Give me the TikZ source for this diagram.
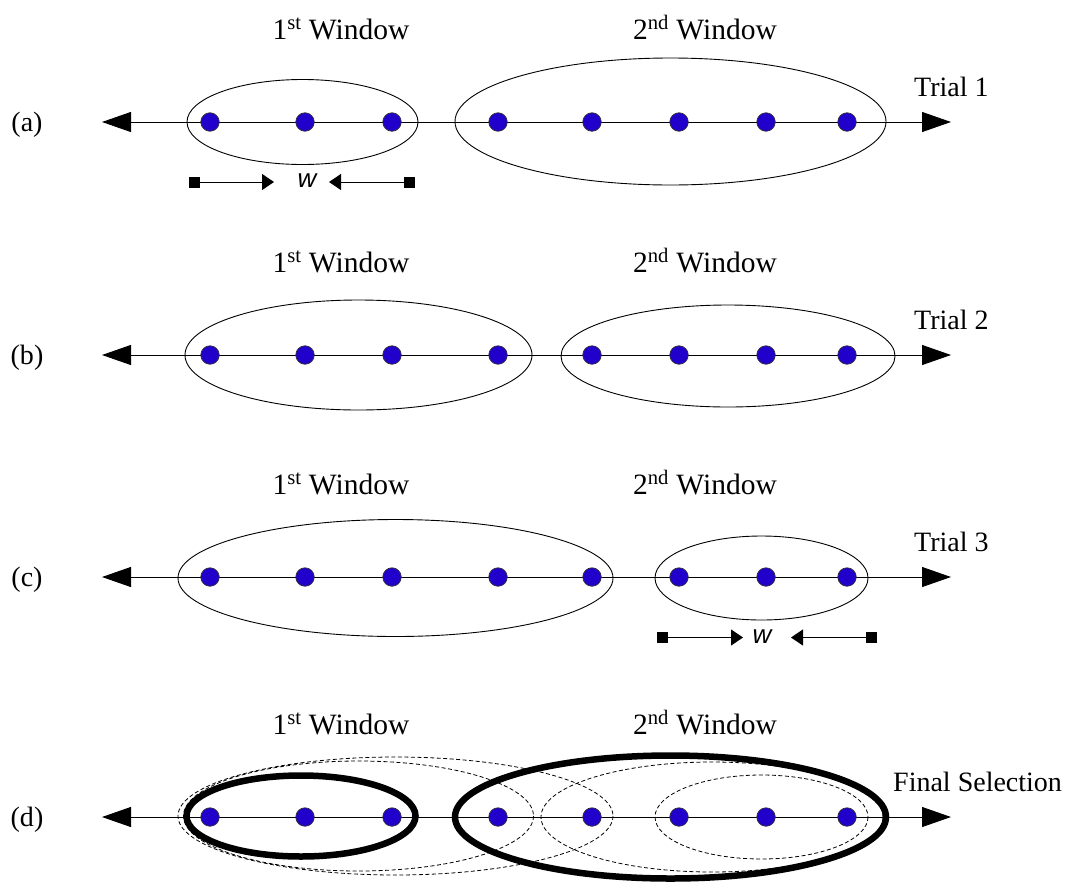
\documentclass[tikz,border=0pt]{standalone}
\usepackage{fontspec}
\setmainfont{Liberation Serif}
\newfontfamily\wfont{Liberation Sans}
\usetikzlibrary{arrows.meta}
\definecolor{dotblue}{RGB}{34,0,204}
\tikzset{
  dot/.style={circle, fill=dotblue, draw=black!80, line width=0.7pt, minimum size=18.5pt, inner sep=0pt},
  axisline/.style={line width=1pt, {Triangle[length=29pt,width=20pt]}-{Triangle[length=29pt,width=20pt]}},
  wbar/.style={line width=1pt, {Square[length=11pt,width=11pt]}-{Triangle[length=12pt,width=16pt]}},
  win/.style={line width=0.9pt},
  thickwin/.style={line width=6.5pt},
  dashwin/.style={line width=0.8pt, dash pattern=on 4pt off 2.5pt},
  txt/.style={font=\fontsize{28}{32}\selectfont, inner sep=0pt},
  ttl/.style={font=\fontsize{29.5}{34}\selectfont, inner sep=0pt},
  wlab/.style={font=\wfont\itshape\fontsize{26}{30}\selectfont, inner sep=0pt},
}
\begin{document}
\begin{tikzpicture}[x=1pt,y=-1pt]
\useasboundingbox (0,0) rectangle (1067,881);

% ---------- row labels and titles ----------
\foreach \r/\y in {a/122,b/355,c/577,d/817}{
  \node[txt] (lab\r) at (27,\y+3) {(\r)};
  \node[ttl, anchor=base] (t1\r) at (341,\y-83) {1\textsuperscript{st} Window};
  \node[ttl, anchor=base] (t2\r) at (705,\y-83) {2\textsuperscript{nd} Window};
  \coordinate (L\r) at (102,\y);
  \coordinate (R\r) at (951,\y);
  \draw[axisline] (L\r) -- (R\r);
}
\node[txt, anchor=base west] (tr1) at (914,96) {Trial 1};
\node[txt, anchor=base west] (tr2) at (914,329) {Trial 2};
\node[txt, anchor=base west] (tr3) at (914,551) {Trial 3};
\node[txt, anchor=base west] (trf) at (893,791) {Final Selection};

% ---------- windows ----------
% (a)
\draw[win] (302.5,122) ellipse [x radius=115.5, y radius=42.5];
\draw[win] (670.5,121.5) ellipse [x radius=215.5, y radius=63.5];
% (b)
\draw[win] (358.5,355) ellipse [x radius=173.5, y radius=55];
\draw[win] (728,356) ellipse [x radius=167, y radius=51];
% (c)
\draw[win] (395.5,578) ellipse [x radius=217.5, y radius=58.5];
\draw[win] (761.5,578) ellipse [x radius=106.5, y radius=42];
% (d)
\draw[dashwin] (358.5,816) ellipse [x radius=175, y radius=55];
\draw[dashwin] (395.5,816) ellipse [x radius=217.5, y radius=59];
\draw[dashwin] (712,817) ellipse [x radius=171, y radius=55];
\draw[dashwin] (761.5,817) ellipse [x radius=106.5, y radius=42];
\draw[thickwin] (301,816) ellipse [x radius=114.5, y radius=40.5];
\draw[thickwin] (670.5,817) ellipse [x radius=215.5, y radius=61.5];

% ---------- dots ----------
\foreach \r/\y in {a/122,b/355,c/577,d/817}{
  \foreach \x [count=\i] in {210,305,392,498,592,679,766,847}{
    \node[dot] (\r\i) at (\x,\y) {};
  }
}

% ---------- w markers ----------
\node[wlab] (wa) at (307,181) {w};
\coordinate (wa1) at (189,182); \coordinate (wa2) at (274,182);
\coordinate (wa3) at (415,182); \coordinate (wa4) at (329,182);
\draw[wbar] (wa1) -- (wa2);
\draw[wbar] (wa3) -- (wa4);

\node[wlab] (wc) at (762,636.5) {w};
\coordinate (wc1) at (657,637.5); \coordinate (wc2) at (743,637.5);
\coordinate (wc3) at (877,637.5); \coordinate (wc4) at (791,637.5);
\draw[wbar] (wc1) -- (wc2);
\draw[wbar] (wc3) -- (wc4);
\end{tikzpicture}
\end{document}
